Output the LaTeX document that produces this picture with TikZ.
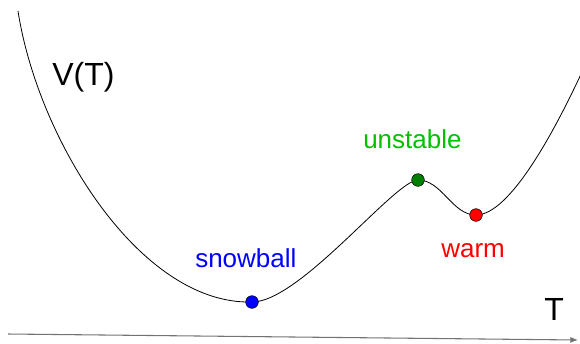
\documentclass[tikz,border=0pt]{standalone}
\usepackage{fontspec}
\setmainfont{Liberation Sans}
\usepackage{xcolor}
\usetikzlibrary{arrows.meta,positioning}
\definecolor{potBlue}{HTML}{0000FF}
\definecolor{potGreen}{HTML}{008000}
\definecolor{potGreenTxt}{HTML}{00C000}
\definecolor{potRed}{HTML}{FF0000}
\tikzset{
  estado/.style={circle, draw=black, thin, inner sep=0pt, minimum size=9.5pt, fill=#1},
  etiqueta/.style={anchor=base west, inner sep=0pt, font=\fontsize{19.5}{22}\selectfont, text=#1},
  rotulo/.style={anchor=base west, inner sep=0pt, font=\fontsize{24}{28}\selectfont},
  curva/.style={black, line width=0.6pt},
  eje/.style={-{Latex[length=2mm,width=1.6mm]}, black!55, line width=0.8pt},
}
\begin{document}
\begin{tikzpicture}[x=0.75pt, y=-0.75pt]
\useasboundingbox (0,0) rectangle (580,343);
\coordinate (inicio) at (18,11);
\coordinate (pSnow) at (252,302);
\coordinate (pInest) at (418,180);
\coordinate (pCalido) at (476,215);
\coordinate (fin) at (582,72);

\draw[curva] (inicio) .. controls (38,140) and (140,305) .. (pSnow)
  .. controls (300,302) and (395,180) .. (pInest)
  .. controls (442,180) and (452,215) .. (pCalido)
  .. controls (510,215) and (555,130) .. (fin);

\node[estado=potBlue] (snow) at (pSnow) {};
\node[estado=potGreen] (inest) at (pInest) {};
\node[estado=potRed] (calido) at (pCalido) {};

\node[etiqueta=potBlue] (lsnow) at (195,267) {snowball};
\node[etiqueta=potGreenTxt] (linest) at (363,148) {unstable};
\node[etiqueta=potRed] (lcalido) at (441,257) {warm};
\node[rotulo] (lv) at (52,85) {V(T)};
\node[rotulo] (lt) at (544,320) {T};

\coordinate (ejeA) at (8,334);
\coordinate (ejeB) at (578,340);
\draw[eje] (ejeA) -- (ejeB);
\end{tikzpicture}
\end{document}
